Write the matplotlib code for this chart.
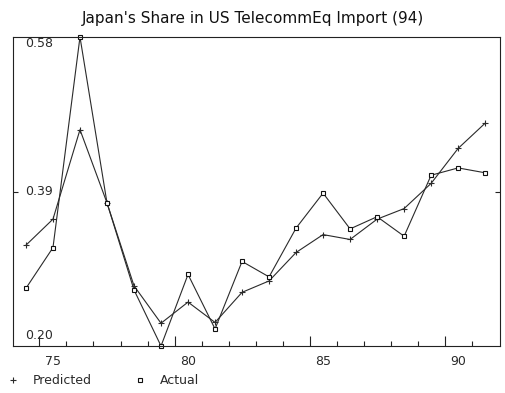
import matplotlib
matplotlib.use("Agg")
import matplotlib.pyplot as plt
import matplotlib.transforms as mtransforms
from matplotlib.lines import Line2D

years = list(range(74, 92))
predicted = [0.324, 0.356, 0.466, 0.376, 0.274, 0.228, 0.254, 0.229, 0.266, 0.280,
             0.315, 0.337, 0.331, 0.356, 0.369, 0.400, 0.443, 0.474]
actual = [0.271, 0.321, 0.580, 0.376, 0.269, 0.200, 0.288, 0.221, 0.304, 0.285,
          0.345, 0.388, 0.344, 0.359, 0.335, 0.410, 0.419, 0.413]
ytick_values = [0.20, 0.39, 0.58]
xtick_labels = [75, 80, 85, 90]
title = "Japan's Share in US TelecommEq Import (94)"

plt.rcParams['font.family'] = ['DejaVu Sans']
fig = plt.figure(figsize=(5.05, 3.93), dpi=100)
ax = fig.add_axes([13 / 505, 1 - 346 / 393, 487 / 505, 309 / 393])

line_col = '#2a2a2a'
text_col = '#2a2a2a'
ax.plot(years, predicted, color=line_col, lw=0.8, marker='+', ms=5, mew=0.8,
        clip_on=False)
ax.plot(years, actual, color=line_col, lw=0.8, marker='s', ms=3.5, mew=0.8,
        mfc='white', mec='#111111', clip_on=False)

ax.set_xlim(73.52, 91.55)
ax.set_ylim(0.20, 0.58)

# year-boundary ticks along the bottom, longer every five years
minor = [y + 0.5 for y in range(74, 91)]
major = [y - 0.5 for y in xtick_labels]
ax.set_xticks(major)
ax.set_xticklabels([])
ax.set_xticks(minor, minor=True)
ax.tick_params(axis='x', which='major', direction='in', length=7, width=0.8,
               color='#222222')
ax.tick_params(axis='x', which='minor', direction='in', length=3.5, width=0.8,
               color='#222222')
for v in xtick_labels:
    ax.text(v, -0.03, str(v), transform=mtransforms.blended_transform_factory(
        ax.transData, ax.transAxes), ha='center', va='top', fontsize=9,
        color=text_col)

# middle y tick on both sides; values written inside the frame
ax.set_yticks([ytick_values[1]])
ax.set_yticklabels([])
ax.tick_params(axis='y', direction='in', length=3.5, width=0.8, left=True,
               right=True, color='#222222')
ytrans = mtransforms.blended_transform_factory(ax.transAxes, ax.transData)
ax.text(0.025, ytick_values[2], f"{ytick_values[2]:.2f}", transform=ytrans,
        ha='left', va='top', fontsize=9, color=text_col)
ax.text(0.025, ytick_values[1], f"{ytick_values[1]:.2f}", transform=ytrans,
        ha='left', va='center', fontsize=9, color=text_col)
ax.text(0.025, ytick_values[0] + 0.005, f"{ytick_values[0]:.2f}",
        transform=ytrans, ha='left', va='bottom', fontsize=9, color=text_col)

for s in ax.spines.values():
    s.set_linewidth(0.8)
    s.set_color('#222222')

fig.text(0.5, 1 - 18 / 393, title, ha='center', va='center', fontsize=11,
         color='#111111')

handles = [Line2D([], [], color=line_col, marker='+', ls='none', ms=5, mew=0.8),
           Line2D([], [], color=line_col, marker='s', ls='none', ms=3.5, mew=0.8,
                  mfc='white', mec='#111111')]
fig.legend(handles, ['Predicted', 'Actual'], loc='center left',
           bbox_to_anchor=(5 / 505, 1 - 381 / 393), ncol=2, frameon=False,
           fontsize=9, handlelength=1.2, handletextpad=1.0, columnspacing=3.3,
           borderpad=0, borderaxespad=0, labelcolor=text_col)

fig.savefig('out.png', dpi=100)
